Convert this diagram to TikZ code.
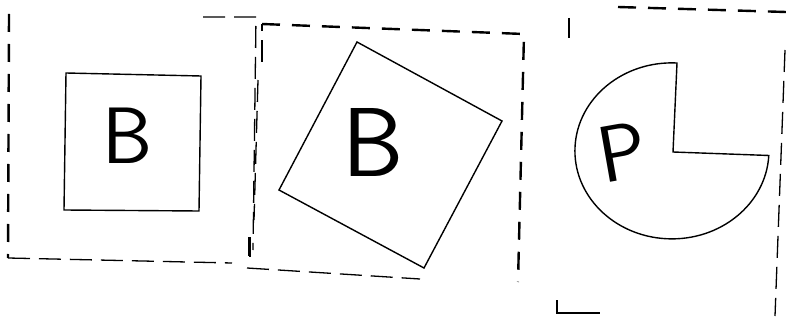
\documentclass[tikz,border=0pt]{standalone}
\begin{document}
\begin{tikzpicture}[x=1pt,y=-1pt,line join=miter,
  frame/.style={line width=2.4pt,dash pattern=on 18pt off 12pt},
  thinframe/.style={line width=1.3pt,dash pattern=on 22pt off 9pt},
  outl/.style={line width=1.4pt},
  letter/.style={font=\sffamily, inner sep=0pt}]
\useasboundingbox (0,0) rectangle (786,320);
% panel 1 frame
\draw[frame] (9,14) -- (8,258);
\draw[thinframe] (8,258) -- (232,263);
\draw[thinframe] (203,17) -- (256,17) -- (253,250);
\draw[line width=2.6pt] (249,237) -- (249,256);
% panel 1 square
\draw[outl] (66,73) -- (201,76) -- (199,211) -- (64,210) -- cycle;
\node[letter,font=\sffamily\fontsize{80}{80}\selectfont] (b1) at (128,136) {B};
% panel 2 frame
\draw[thinframe] (262,62) -- (262,24);
\draw[frame] (262,24) -- (524,34) -- (518,282);
\draw[thinframe] (258,80) -- (254,220);
\draw[line width=2.6pt] (250,237) -- (250,257);
\draw[thinframe] (247,268) -- (420,279);
% panel 3 frame
\draw[frame] (618,7) -- (786,12);
\draw[thinframe] (785,50) -- (775,316);
\draw[line width=1.3pt] (569,18) -- (569,38);
\draw[line width=1.4pt] (557,300) -- (557,313) -- (600,313);
% panel 2 rotated square
\draw[outl] (357,42) -- (502,121) -- (424,268) -- (279,190) -- cycle;
\node[letter,font=\sffamily\fontsize{98}{98}\selectfont] (b2) at (373,142) {B};
% pacman
\draw[outl] (673,152) -- (677,63) arc[start angle=-87,end angle=-357,x radius=97,y radius=88] -- cycle;
\node[letter,rotate=10,font=\sffamily\fontsize{80}{80}\selectfont] (p) at (622,152) {P};
\end{tikzpicture}
\end{document}
